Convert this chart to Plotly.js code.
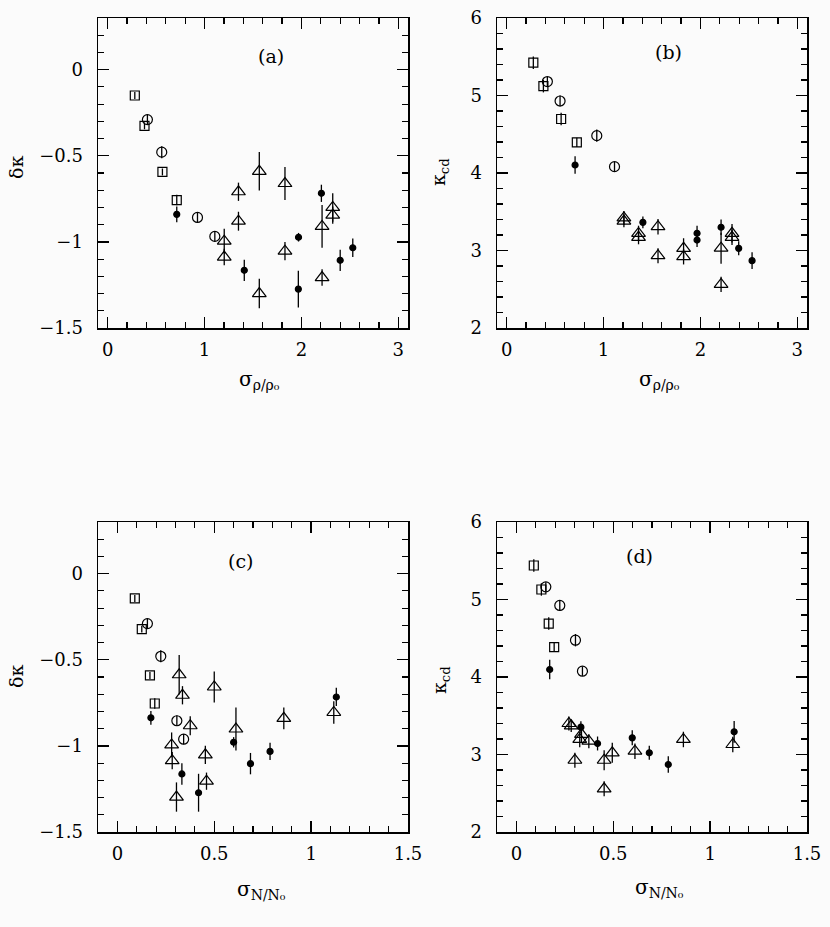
<!DOCTYPE html>
<html>
<head>
<meta charset="utf-8">
<script src="https://cdn.plot.ly/plotly-3.0.1.min.js"></script>
<style>html,body{margin:0;padding:0;background:#fbfbfb;}</style>
</head>
<body>
<div id="chart" style="width:830px;height:927px;"></div>
<script>
// ---- Panel (a): delta kappa vs sigma_rho/rho0 ----
const A_sq_x = [0.28, 0.38, 0.565, 0.713];
const A_sq_y = [-0.15, -0.326, -0.594, -0.757];
const A_sq_e = [0.02, 0.02, 0.02, 0.03];
const A_ci_x = [0.41, 0.558, 0.927, 1.106];
const A_ci_y = [-0.29, -0.479, -0.858, -0.968];
const A_ci_e = [0.03, 0.035, 0.03, 0.03];
const A_fi_x = [0.713, 1.41, 1.968, 1.97, 2.206, 2.4, 2.53];
const A_fi_y = [-0.84, -1.165, -1.274, -0.973, -0.718, -1.107, -1.034];
const A_fi_e = [0.046, 0.062, 0.107, 0.025, 0.05, 0.062, 0.054];
const A_tr_x = [1.203, 1.203, 1.35, 1.35, 1.565, 1.565, 1.83, 1.83, 2.213, 2.213, 2.323, 2.323];
const A_tr_y = [-0.996, -1.088, -0.709, -0.88, -0.59, -1.3, -0.661, -1.054, -0.91, -1.207, -0.80, -0.845];
const A_tr_e = [0.072, 0.048, 0.053, 0.055, 0.112, 0.086, 0.096, 0.053, 0.124, 0.048, 0.083, 0.05];

// ---- Panel (b): kappa_cd vs sigma_rho/rho0 ----
const B_sq_x = [0.275, 0.379, 0.562, 0.724];
const B_sq_y = [5.423, 5.12, 4.697, 4.396];
const B_sq_e = [0.08, 0.08, 0.08, 0.06];
const B_ci_x = [0.42, 0.551, 0.93, 1.113];
const B_ci_y = [5.18, 4.929, 4.482, 4.082];
const B_ci_e = [0.06, 0.07, 0.08, 0.06];
const B_fi_x = [0.706, 1.406, 1.965, 1.965, 2.213, 2.395, 2.533];
const B_fi_y = [4.103, 3.363, 3.222, 3.135, 3.3, 3.028, 2.869];
const B_fi_e = [0.114, 0.077, 0.097, 0.09, 0.1, 0.09, 0.107];
const B_tr_x = [1.21, 1.21, 1.361, 1.361, 1.562, 1.562, 1.826, 1.826, 2.213, 2.213, 2.326, 2.326];
const B_tr_y = [3.42, 3.38, 3.22, 3.17, 3.307, 2.933, 3.028, 2.92, 3.03, 2.563, 3.222, 3.17];
const B_tr_e = [0.09, 0.08, 0.1, 0.09, 0.1, 0.097, 0.13, 0.1, 0.2, 0.097, 0.12, 0.1];

// ---- Panel (c): delta kappa vs sigma_N/N0 ----
const C_sq_x = [0.09, 0.126, 0.168, 0.193];
const C_sq_y = [-0.144, -0.322, -0.591, -0.754];
const C_sq_e = [0.02, 0.02, 0.02, 0.03];
const C_ci_x = [0.155, 0.224, 0.307, 0.342];
const C_ci_y = [-0.29, -0.48, -0.854, -0.961];
const C_ci_e = [0.03, 0.035, 0.03, 0.03];
const C_fi_x = [0.173, 0.333, 0.419, 0.6, 0.687, 0.788, 1.13];
const C_fi_y = [-0.837, -1.163, -1.272, -0.979, -1.103, -1.032, -0.716];
const C_fi_e = [0.04, 0.062, 0.11, 0.03, 0.062, 0.05, 0.053];
const C_tr_x = [0.28, 0.283, 0.319, 0.305, 0.336, 0.376, 0.454, 0.46, 0.5, 0.612, 0.859, 1.117];
const C_tr_y = [-0.994, -1.086, -0.587, -1.297, -0.706, -0.883, -1.052, -1.205, -0.658, -0.902, -0.84, -0.806];
const C_tr_e = [0.072, 0.05, 0.115, 0.085, 0.053, 0.055, 0.053, 0.05, 0.09, 0.125, 0.063, 0.065];

// ---- Panel (d): kappa_cd vs sigma_N/N0 ----
const D_sq_x = [0.09, 0.129, 0.167, 0.195];
const D_sq_y = [5.439, 5.129, 4.69, 4.385];
const D_sq_e = [0.08, 0.08, 0.08, 0.06];
const D_ci_x = [0.152, 0.224, 0.305, 0.341];
const D_ci_y = [5.163, 4.923, 4.475, 4.075];
const D_ci_e = [0.06, 0.07, 0.08, 0.06];
const D_fi_x = [0.172, 0.333, 0.419, 0.598, 0.686, 0.784, 1.124];
const D_fi_y = [4.097, 3.353, 3.142, 3.215, 3.022, 2.871, 3.293];
const D_fi_e = [0.125, 0.077, 0.09, 0.097, 0.09, 0.107, 0.14];
const D_tr_x = [0.271, 0.283, 0.302, 0.327, 0.336, 0.374, 0.453, 0.453, 0.495, 0.612, 0.862, 1.117];
const D_tr_y = [3.40, 3.37, 2.926, 3.194, 3.26, 3.172, 2.926, 2.557, 3.022, 3.043, 3.194, 3.129];
const D_tr_e = [0.09, 0.08, 0.097, 0.1, 0.1, 0.09, 0.13, 0.097, 0.13, 0.1, 0.1, 0.1];

const panelLabels = ['(a)', '(b)', '(c)', '(d)'];
const yTitleLeft = 'δκ';
const yTitleRight = 'κ<sub>cd</sub>';
const xTitleTop = 'σ<sub>ρ/ρ₀</sub>';
const xTitleBottom = 'σ<sub>N/N₀</sub>';

const FONT = 'DejaVu Serif';

function errs(e) {
  return {type: 'data', array: e, visible: true, color: '#000', thickness: 1.3, width: 0};
}
function series(x, y, e, kind, xa, ya) {
  const styles = {
    sq: {symbol: 'square-open', size: 9},
    ci: {symbol: 'circle-open', size: 10},
    fi: {symbol: 'circle', size: 6},
    tr: {symbol: 'triangle-up-open', size: 12}
  };
  const s = styles[kind];
  return {
    x: x, y: y, type: 'scatter', mode: 'markers', xaxis: xa, yaxis: ya,
    error_y: errs(e), showlegend: false, hoverinfo: 'x+y',
    marker: {symbol: s.symbol, size: s.size, color: '#000', line: {color: '#000', width: 1.2}}
  };
}

const data = [
  series(A_sq_x, A_sq_y, A_sq_e, 'sq', 'x', 'y'),
  series(A_ci_x, A_ci_y, A_ci_e, 'ci', 'x', 'y'),
  series(A_fi_x, A_fi_y, A_fi_e, 'fi', 'x', 'y'),
  series(A_tr_x, A_tr_y, A_tr_e, 'tr', 'x', 'y'),
  series(B_sq_x, B_sq_y, B_sq_e, 'sq', 'x2', 'y2'),
  series(B_ci_x, B_ci_y, B_ci_e, 'ci', 'x2', 'y2'),
  series(B_fi_x, B_fi_y, B_fi_e, 'fi', 'x2', 'y2'),
  series(B_tr_x, B_tr_y, B_tr_e, 'tr', 'x2', 'y2'),
  series(C_sq_x, C_sq_y, C_sq_e, 'sq', 'x3', 'y3'),
  series(C_ci_x, C_ci_y, C_ci_e, 'ci', 'x3', 'y3'),
  series(C_fi_x, C_fi_y, C_fi_e, 'fi', 'x3', 'y3'),
  series(C_tr_x, C_tr_y, C_tr_e, 'tr', 'x3', 'y3'),
  series(D_sq_x, D_sq_y, D_sq_e, 'sq', 'x4', 'y4'),
  series(D_ci_x, D_ci_y, D_ci_e, 'ci', 'x4', 'y4'),
  series(D_fi_x, D_fi_y, D_fi_e, 'fi', 'x4', 'y4'),
  series(D_tr_x, D_tr_y, D_tr_e, 'tr', 'x4', 'y4')
];

const W = 830, H = 927;
const colL = [98 / W, 408 / W], colR = [497 / W, 807 / W];
const rowT = [1 - 328 / H, 1 - 18 / H], rowB = [1 - 832 / H, 1 - 522 / H];

function ax(domain, range, dtick, minor, anchor, isX) {
  return {
    domain: domain, range: range, dtick: dtick, tick0: 0, anchor: anchor,
    showline: true, linecolor: '#000', linewidth: 1.5, mirror: 'ticks',
    ticks: 'inside', ticklen: 11, tickwidth: 1.3, tickcolor: '#000',
    minor: {dtick: minor, tick0: 0, ticks: 'inside', ticklen: 6, tickwidth: 1.2, tickcolor: '#000', showgrid: false},
    showgrid: false, zeroline: false, fixedrange: true,
    ticklabelstandoff: isX ? 5 : 10,
    tickfont: {family: FONT, size: 18, color: '#000'}
  };
}

const layout = {
  width: W, height: H,
  margin: {l: 0, r: 0, t: 0, b: 0},
  paper_bgcolor: '#fbfbfb', plot_bgcolor: '#fbfbfb',
  showlegend: false,
  font: {family: FONT, size: 18, color: '#000'},
  xaxis: ax(colL, [-0.1, 3.1], 1, 0.2, 'y', true),
  yaxis: ax(rowT, [-1.5, 0.3], 0.5, 0.1, 'x', false),
  xaxis2: ax(colR, [-0.1, 3.1], 1, 0.2, 'y2', true),
  yaxis2: ax(rowT, [2, 6], 1, 0.2, 'x2', false),
  xaxis3: ax(colL, [-0.1, 1.5], 0.5, 0.1, 'y3', true),
  yaxis3: ax(rowB, [-1.5, 0.3], 0.5, 0.1, 'x3', false),
  xaxis4: ax(colR, [-0.1, 1.5], 0.5, 0.1, 'y4', true),
  yaxis4: ax(rowB, [2, 6], 1, 0.2, 'x4', false),
  annotations: []
};

function ann(text, px, py, size, angle) {
  layout.annotations.push({
    text: text, xref: 'paper', yref: 'paper', x: px / W, y: 1 - py / H,
    xanchor: 'center', yanchor: 'middle', showarrow: false, textangle: angle || 0,
    font: {family: FONT, size: size, color: '#000'}
  });
}
ann(panelLabels[0], 271, 56, 19);
ann(panelLabels[1], 668, 52, 19);
ann(panelLabels[2], 240, 561, 19);
ann(panelLabels[3], 639, 556, 19);
ann(yTitleLeft, 16, 168, 19, -90);
ann(yTitleLeft, 16, 677, 19, -90);
ann(yTitleRight, 440, 172, 19, -90);
ann(yTitleRight, 440, 680, 19, -90);
ann(xTitleTop, 259, 380, 20);
ann(xTitleTop, 659, 380, 20);
ann(xTitleBottom, 261, 890, 20);
ann(xTitleBottom, 659, 888, 20);

Plotly.newPlot('chart', data, layout, {staticPlot: true, displayModeBar: false});
</script>
</body>
</html>
